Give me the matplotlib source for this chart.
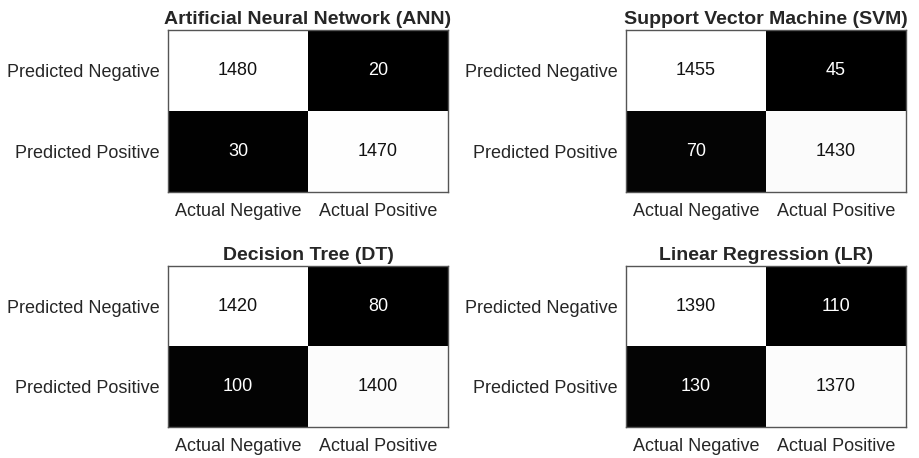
import numpy as np
import matplotlib
matplotlib.use("Agg")
import matplotlib.pyplot as plt

plt.rcParams['font.family'] = ['Liberation Sans', 'DejaVu Sans']

titles = ["Artificial Neural Network (ANN)", "Support Vector Machine (SVM)",
          "Decision Tree (DT)", "Linear Regression (LR)"]
row_labels = ["Predicted Negative", "Predicted Positive"]
col_labels = ["Actual Negative", "Actual Positive"]
ann = [[1480, 20], [30, 1470]]
svm = [[1455, 45], [70, 1430]]
dt = [[1420, 80], [100, 1400]]
lr = [[1390, 110], [130, 1370]]
matrices = [ann, svm, dt, lr]

W, H = 920, 458
fig = plt.figure(figsize=(W / 100, H / 100), dpi=100)

boxes = [(168, 30, 448, 192), (626, 30, 906, 192),
         (168, 266, 448, 427), (626, 266, 906, 427)]

for (x0, y0, x1, y1), title, m in zip(boxes, titles, matrices):
    ax = fig.add_axes([x0 / W, 1 - y1 / H, (x1 - x0) / W, (y1 - y0) / H])
    data = np.array(m, dtype=float)
    vmin, vmax = data.min(), data.max()
    ax.imshow(data, cmap='gray', vmin=vmin, vmax=vmax, aspect='auto',
              interpolation='nearest')
    for i in range(2):
        for j in range(2):
            frac = (data[i, j] - vmin) / (vmax - vmin)
            ax.text(j, i, f"{int(data[i, j])}", ha='center', va='center',
                    fontsize=13, color='#111111' if frac > 0.5 else 'white')
    ax.set_xticks([0, 1])
    ax.set_xticklabels(col_labels, fontsize=13, color='#262626')
    ax.set_yticks([0, 1])
    ax.set_yticklabels(row_labels, fontsize=13, color='#262626')
    ax.tick_params(axis='x', length=0, pad=8)
    ax.tick_params(axis='y', length=0, pad=6)
    ax.set_title(title, fontsize=14, fontweight='bold', color='#262626', pad=4)
    for s in ax.spines.values():
        s.set_color('#555555')
        s.set_linewidth(1.0)

fig.savefig("out.png", dpi=100)
